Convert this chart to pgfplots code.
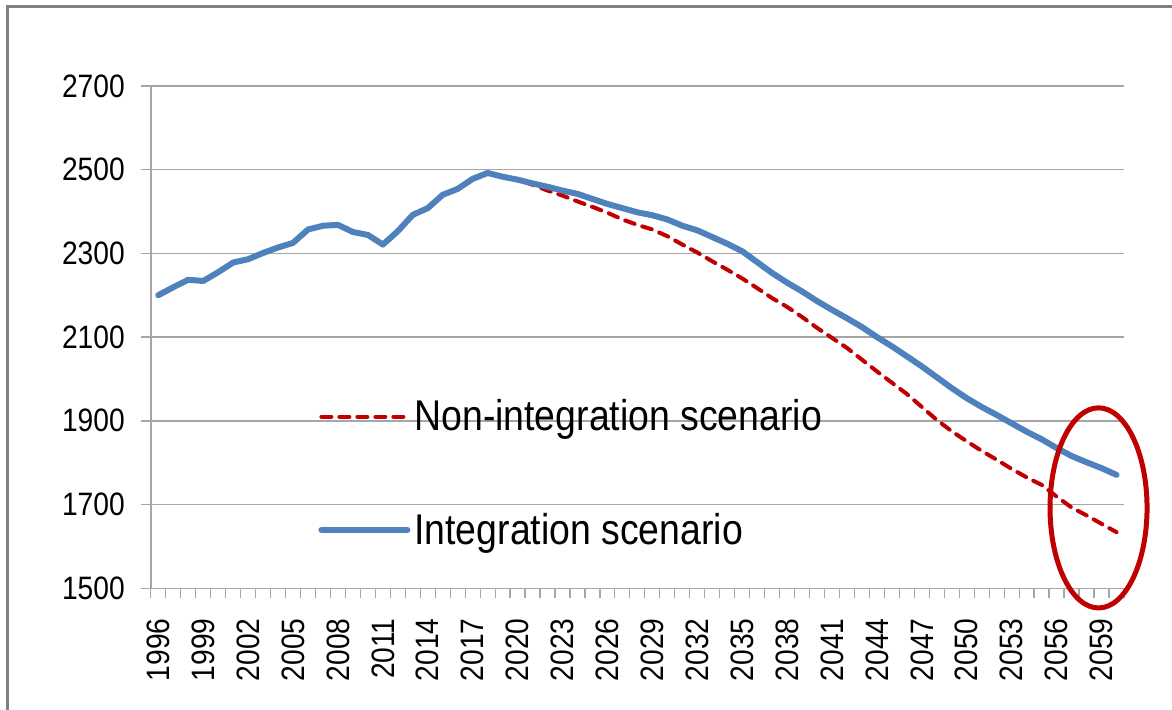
\documentclass[border=0pt]{standalone}
\usepackage{fontspec}
\setmainfont{Liberation Sans}[FakeStretch=0.87]
\usepackage{pgfplots}
\pgfplotsset{compat=1.18}
\usepackage{pgfplotstable}
\definecolor{exblue}{RGB}{79,129,189}
\definecolor{exred}{RGB}{192,0,0}
\definecolor{gridgray}{RGB}{166,166,166}
\definecolor{framegray}{RGB}{128,128,128}

\pgfplotstableread{
year integ
1996 2200
1997 2219
1998 2237
1999 2234
2000 2255
2001 2278
2002 2286
2003 2301
2004 2314
2005 2325
2006 2357
2007 2366
2008 2368
2009 2351
2010 2344
2011 2321
2012 2353
2013 2392
2014 2408
2015 2440
2016 2454
2017 2478
2018 2492
2019 2483
2020 2476
2021 2467
2022 2459
2023 2450
2024 2442
2025 2430
2026 2418
2027 2408
2028 2398
2029 2391
2030 2381
2031 2366
2032 2355
2033 2339
2034 2323
2035 2305
2036 2279
2037 2253
2038 2230
2039 2209
2040 2186
2041 2165
2042 2145
2043 2124
2044 2100
2045 2078
2046 2054
2047 2030
2048 2004
2049 1978
2050 1954
2051 1933
2052 1914
2053 1894
2054 1874
2055 1856
2056 1835
2057 1816
2058 1801
2059 1787
2060 1771
}\integtable

\pgfplotstableread{
year nonint
1996 2200
1997 2219
1998 2237
1999 2234
2000 2255
2001 2278
2002 2286
2003 2301
2004 2314
2005 2325
2006 2357
2007 2366
2008 2368
2009 2351
2010 2344
2011 2321
2012 2353
2013 2392
2014 2408
2015 2440
2016 2454
2017 2478
2018 2492
2019 2483
2020 2476
2021 2464
2022 2450
2023 2438
2024 2424
2025 2411
2026 2397
2027 2381
2028 2368
2029 2357
2030 2341
2031 2321
2032 2302
2033 2281
2034 2261
2035 2240
2036 2217
2037 2193
2038 2172
2039 2148
2040 2122
2041 2098
2042 2074
2043 2046
2044 2018
2045 1991
2046 1964
2047 1933
2048 1902
2049 1875
2050 1851
2051 1828
2052 1807
2053 1785
2054 1765
2055 1747
2056 1719
2057 1693
2058 1674
2059 1654
2060 1634
}\noninttable

\begin{document}
\begin{tikzpicture}
\path[use as bounding box] (0pt,0pt) rectangle (586pt,355pt);
\draw[framegray, line width=1.5pt] (3.85pt,-10pt) -- (3.85pt,351.5pt) -- (600pt,351.5pt);
\begin{axis}[
  at={(75.4pt,60.85pt)}, anchor=south west,
  scale only axis, width=486.6pt, height=251.2pt,
  xmin=1995.5, xmax=2060.5, ymin=1500, ymax=2700,
  clip=false,
  axis x line*=bottom, axis y line*=left,
  axis line style={gridgray, line width=0.75pt},
  ymajorgrids, major grid style={gridgray, line width=0.75pt},
  ytick={1500,1700,...,2700},
  xtick={1996,1999,...,2059},
  minor xtick={1995.5,1996.5,...,2060.5},
  tick align=outside,
  major tick length=5pt, minor tick length=5pt,
  major x tick style={draw=none},
  minor x tick style={gridgray, line width=0.6pt},
  y tick style={gridgray, line width=0.75pt},
  /pgf/number format/1000 sep={},
  /pgf/number format/assume math mode=true,
  tick label style={font=\fontsize{16.2}{18}\selectfont, black},
  x tick label style={rotate=90, anchor=east},
  xticklabel shift=6.5pt,
  yticklabel shift=4.5pt,
  legend cell align=left,
  legend image code/.code={\draw[#1] (0pt,0pt) -- (43pt,0pt);},
  legend style={at={(rel axis cs:0.1718,0.384)}, anchor=north west,
    draw=none, fill=none, inner sep=0pt,
    font=\fontsize{21.5}{25}\selectfont, row sep=35.5pt},
]
\addplot[exred, line width=2pt, line cap=round, dash pattern=on 5pt off 4pt] table[x=year, y=nonint] {\noninttable};
\addlegendentry{Non-integration scenario}
\addplot[exblue, line width=3pt, line cap=round, line join=round] table[x=year, y=integ] {\integtable};
\addlegendentry{Integration scenario}
\draw[exred, line width=2.5pt] (axis cs:2058.8,1692) ellipse [x radius=3.24, y radius=239];
\end{axis}
\end{tikzpicture}
\end{document}
